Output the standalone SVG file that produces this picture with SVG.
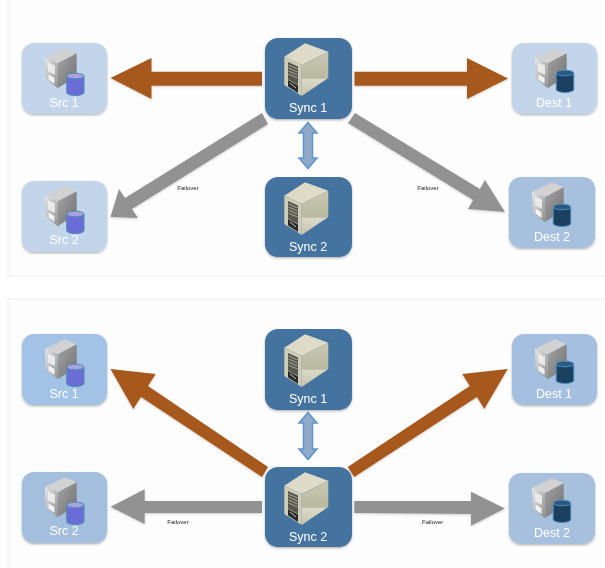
<svg xmlns="http://www.w3.org/2000/svg" xmlns:xlink="http://www.w3.org/1999/xlink" width="605" height="568" viewBox="0 0 605 568">
<style>
.panel{fill:#fdfdfd;stroke:#ececec;stroke-width:1}
.box{filter:url(#shadow)}
.sync{fill:#44739f}
.lbl{font-family:"Liberation Sans",Arial,sans-serif;font-size:12.5px;fill:#fff;text-anchor:middle;font-weight:400}
.note{font-family:"Liberation Sans",Arial,sans-serif;font-size:6px;fill:#222;text-anchor:middle}
.brown{fill:#a7591f;filter:url(#ashadow)}
.gray{fill:#929292;filter:url(#ashadow)}
.link{fill:#8fa9c9;stroke:#5f93cb;stroke-width:1.5;stroke-linejoin:miter}
</style>
<defs>
<filter id="soft" x="-2%" y="-2%" width="104%" height="104%"><feGaussianBlur stdDeviation="0.45"/></filter>
<filter id="shadow" x="-10%" y="-10%" width="120%" height="125%"><feDropShadow dx="0" dy="1.2" stdDeviation="1.3" flood-color="#000" flood-opacity="0.3"/></filter>
<filter id="ashadow" x="-10%" y="-20%" width="120%" height="140%"><feDropShadow dx="0" dy="1" stdDeviation="1" flood-color="#000" flood-opacity="0.18"/></filter>
<linearGradient id="gFront" x1="0" y1="0" x2="1" y2="1"><stop offset="0" stop-color="#e8e8e8"/><stop offset="1" stop-color="#8f8f8f"/></linearGradient>
<linearGradient id="gSide" x1="0" y1="0" x2="1" y2="1"><stop offset="0" stop-color="#a5a5a5"/><stop offset="1" stop-color="#6f6f6f"/></linearGradient>
<linearGradient id="bSide" x1="0" y1="0" x2="0" y2="1"><stop offset="0" stop-color="#c9c8b3"/><stop offset="0.6" stop-color="#b9b8a0"/><stop offset="0.62" stop-color="#dbdac8"/><stop offset="1" stop-color="#c4c3ad"/></linearGradient>
<g id="grayServer">
<path d="M23 14.7L43 5.3L54.7 10.3L35.7 20.3Z" fill="#d2d2d2"/>
<path d="M35.7 20.3L54.7 10.3V33L35.7 45.3Z" fill="url(#gSide)"/>
<path d="M23 14.7L35.7 20.3V45.3L23.7 35.3Z" fill="url(#gFront)"/>
<path d="M26 19.5L33 22.5V32L26 28.5Z" fill="#f4f4f4" opacity=".8"/>
<path d="M26.5 31.5L32.5 35V41L26.5 36.5Z" fill="#fafafa" opacity=".9"/>
</g>
<g id="cylPurple">
<path d="M44.7 33v16.5a8.6 3 0 0 0 17.3 0V33Z" fill="#6b6dd5" stroke="#4d8fb0" stroke-width="1"/>
<ellipse cx="53.4" cy="33" rx="8.6" ry="2.8" fill="#a9a2e2" stroke="#4d8fb0" stroke-width="1"/>
</g>
<g id="cylNavy">
<path d="M44.2 30v16.5a8.8 3 0 0 0 17.6 0V30Z" fill="#1a4060" stroke="#4d8fc0" stroke-width="1"/>
<ellipse cx="53" cy="30" rx="8.8" ry="2.8" fill="#2c5a80" stroke="#4d8fc0" stroke-width="1"/>
</g>
<g id="beigeServer">
<path d="M19.3 18.7L40 5.3L63.3 13.7L36.7 27Z" fill="#dedcc8"/>
<path d="M36.7 27L63.3 13.7V40L36.7 58Z" fill="url(#bSide)"/>
<path d="M19.3 18.7L36.7 27V58L19.3 47Z" fill="#cfcdb8"/>
<path d="M23 24L33 28.5V47L23 41.5Z" fill="#56564f"/>
<path d="M23.5 27L32.5 31M23.5 30L32.5 34M23.5 33L32.5 37M23.5 36L32.5 40" stroke="#a9a99a" stroke-width="1" fill="none"/>
<path d="M23 42L33 47.5V55L23 48.5Z" fill="#2c2c2a"/>
<path d="M25 45L31 50" stroke="#bbb" stroke-width="1"/>
</g>
</defs>
<rect width="605" height="568" fill="#fff"/>
<g filter="url(#soft)">
<rect class="panel" x="8" y="-2" width="600" height="278"/>
<rect class="panel" x="8" y="299" width="600" height="272"/>
<g id="connectors">
<path class="brown" d="M262 71.7V85.7H151.5V99L110.5 78L151.5 58V71.7Z"/>
<path class="brown" d="M354.5 71.7H467V58L508 78.5L467 99V85.7H354.5Z"/>
<path class="gray" d="M262 113L268 124L132 209L138 218L110.5 217L119 189L125 198Z"/>
<path class="gray" d="M355 113L479.9 189L485 180L505 212L468 209L473.1 200L348 123Z"/>
<path class="link" d="M308 122.500L317 133H312.500V158H317L308 168.500L299 158H303.500V133H299Z"/>
<path class="brown" d="M268 467L262 477L141 397L133.300 409L110.500 369L155.700 374L148 386Z"/>
<path class="brown" d="M347.700 467L354.300 477L476.900 397L484.300 409L507.700 369L462.300 374L469.700 386Z"/>
<path class="gray" d="M262 501V513H144.700V524L110.500 506.700L144.700 489.300V501Z"/>
<path class="gray" d="M354.300 501H471V491.700L505 508.500L471 525.700V514L354.300 513Z"/>
<path class="link" d="M308 412.500L317 423H312.500V449H317L308 459.500L299 449H303.500V423H299Z"/>
<text class="note" x="188" y="190">Failover</text>
<text class="note" x="428" y="190">Failover</text>
<text class="note" x="178" y="523.700">Failover</text>
<text class="note" x="432.700" y="523.700">Failover</text>
</g>
<g id="top-src1" transform="translate(22 43)"><rect class="box" width="85" height="71" rx="12" fill="#c2d5ea"/><use href="#grayServer"/><use href="#cylPurple"/><text class="lbl" x="42" y="63.500">Src 1</text></g>
<g id="top-src2" transform="translate(22 181)"><rect class="box" width="85" height="71" rx="12" fill="#c2d5ea"/><use href="#grayServer"/><use href="#cylPurple"/><text class="lbl" x="42" y="63">Src 2</text></g>
<g id="top-sync1" transform="translate(265 38)"><rect class="box sync" width="87" height="81" rx="13"/><use href="#beigeServer"/><text class="lbl" x="43" y="74">Sync 1</text></g>
<g id="top-sync2" transform="translate(265 177)"><rect class="box sync" width="87" height="80" rx="13"/><use href="#beigeServer"/><text class="lbl" x="43" y="74">Sync 2</text></g>
<g id="top-dest1" transform="translate(512 43)"><rect class="box" width="85" height="71" rx="12" fill="#c2d5ea"/><use href="#grayServer"/><use href="#cylNavy"/><text class="lbl" x="42" y="63.500">Dest 1</text></g>
<g id="top-dest2" transform="translate(509 177)"><rect class="box" width="86" height="71" rx="12" fill="#a6c0de"/><use href="#grayServer"/><use href="#cylNavy"/><text class="lbl" x="43" y="63.500">Dest 2</text></g>
<g id="bottom-src1" transform="translate(22 334)"><rect class="box" width="85" height="71" rx="12" fill="#a3c3e6"/><use href="#grayServer"/><use href="#cylPurple"/><text class="lbl" x="42" y="63.500">Src 1</text></g>
<g id="bottom-src2" transform="translate(22 472)"><rect class="box" width="85" height="71" rx="12" fill="#a3bfdd"/><use href="#grayServer"/><use href="#cylPurple"/><text class="lbl" x="42" y="63">Src 2</text></g>
<g id="bottom-sync1" transform="translate(265 329)"><rect class="box sync" width="87" height="81" rx="13"/><use href="#beigeServer"/><text class="lbl" x="43" y="74">Sync 1</text></g>
<g id="bottom-sync2" transform="translate(265 467)"><rect class="box sync" width="87" height="80" rx="13"/><use href="#beigeServer"/><text class="lbl" x="43" y="74">Sync 2</text></g>
<g id="bottom-dest1" transform="translate(512 334)"><rect class="box" width="85" height="71" rx="12" fill="#a4bfdf"/><use href="#grayServer"/><use href="#cylNavy"/><text class="lbl" x="42" y="63.500">Dest 1</text></g>
<g id="bottom-dest2" transform="translate(509 473)"><rect class="box" width="86" height="71" rx="12" fill="#a6c0de"/><use href="#grayServer"/><use href="#cylNavy"/><text class="lbl" x="43" y="63.500">Dest 2</text></g>
</g>
</svg>
